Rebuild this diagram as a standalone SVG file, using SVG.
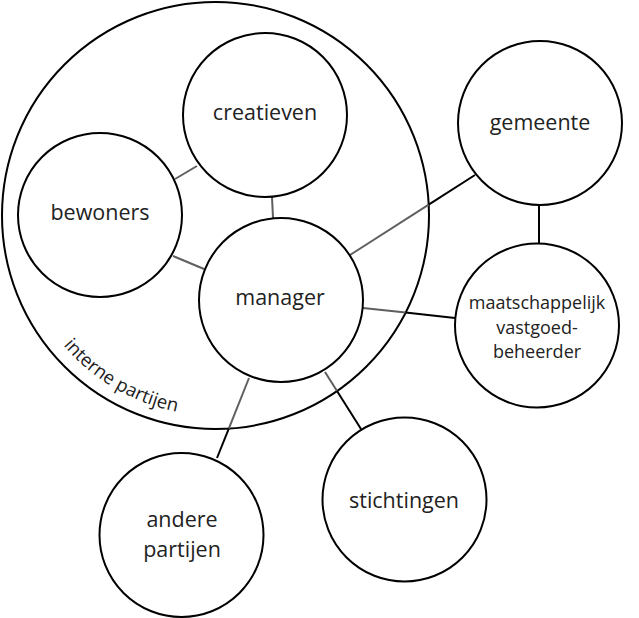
<svg xmlns="http://www.w3.org/2000/svg" width="639" height="618" viewBox="0 0 639 618">
<style>
.c{fill:none;stroke:#000;stroke-width:2}
.n{fill:#fff;stroke:#000;stroke-width:2}
.g{stroke:#5f5f5f;stroke-width:2;fill:none}
.k{stroke:#000;stroke-width:2;fill:none}
.t{font-family:"Open Sans","Liberation Sans",sans-serif;font-size:21.5px;fill:#222;text-anchor:middle}
.m{font-family:"Open Sans","Liberation Sans",sans-serif;font-size:18px;fill:#222;text-anchor:middle}
.s{font-family:"Open Sans","Liberation Sans",sans-serif;font-size:18.5px;fill:#222}
</style>
<defs>
<path id="arc" d="M15.5,215.5 A200,200 0 0 0 215.5,415.5"/>
</defs>
<rect width="639" height="618" fill="#fff"/>
<g id="interne-partijen">
<circle class="c" cx="215.5" cy="215.5" r="213.5"/>
<text class="s"><textPath href="#arc" startOffset="208" text-anchor="middle">interne partijen</textPath></text>
</g>
<g id="connectors">
<line class="g" x1="197" y1="166" x2="175" y2="179"/>
<line class="g" x1="272" y1="197" x2="273" y2="218"/>
<line class="g" x1="173" y1="256" x2="204" y2="269"/>
<line class="g" x1="350" y1="255" x2="428.7" y2="204.6"/>
<line class="k" x1="428.7" y1="204.6" x2="475" y2="175"/>
<line class="g" x1="363" y1="308" x2="405.6" y2="312.6"/>
<line class="k" x1="405.6" y1="312.6" x2="455" y2="318"/>
<line class="k" x1="539" y1="205" x2="539" y2="243"/>
<line class="g" x1="249" y1="378" x2="228.8" y2="428.6"/>
<line class="k" x1="228.8" y1="428.6" x2="217" y2="458"/>
<line class="g" x1="325" y1="372" x2="337" y2="391"/>
<line class="k" x1="337" y1="391" x2="361" y2="429"/>
</g>
<g id="creatieven">
<circle class="n" cx="265" cy="115" r="82"/>
<text class="t" x="265" y="120">creatieven</text>
</g>
<g id="bewoners">
<circle class="n" cx="100" cy="215" r="82"/>
<text class="t" x="100" y="220">bewoners</text>
</g>
<g id="manager">
<circle class="n" cx="281" cy="300" r="82"/>
<text class="t" x="280" y="305">manager</text>
</g>
<g id="gemeente">
<circle class="n" cx="540" cy="123" r="82"/>
<text class="t" x="540" y="130">gemeente</text>
</g>
<g id="maatschappelijk-vastgoedbeheerder">
<circle class="n" cx="537" cy="325.5" r="82"/>
<text class="m" x="537" y="309">maatschappelijk</text>
<text class="m" x="537" y="333.5">vastgoed-</text>
<text class="m" x="537" y="358">beheerder</text>
</g>
<g id="andere-partijen">
<circle class="n" cx="181.5" cy="535" r="82"/>
<text class="t" x="182" y="527">andere</text>
<text class="t" x="182" y="556.5">partijen</text>
</g>
<g id="stichtingen">
<circle class="n" cx="404.5" cy="499.5" r="82"/>
<text class="t" x="404" y="508">stichtingen</text>
</g>
</svg>
